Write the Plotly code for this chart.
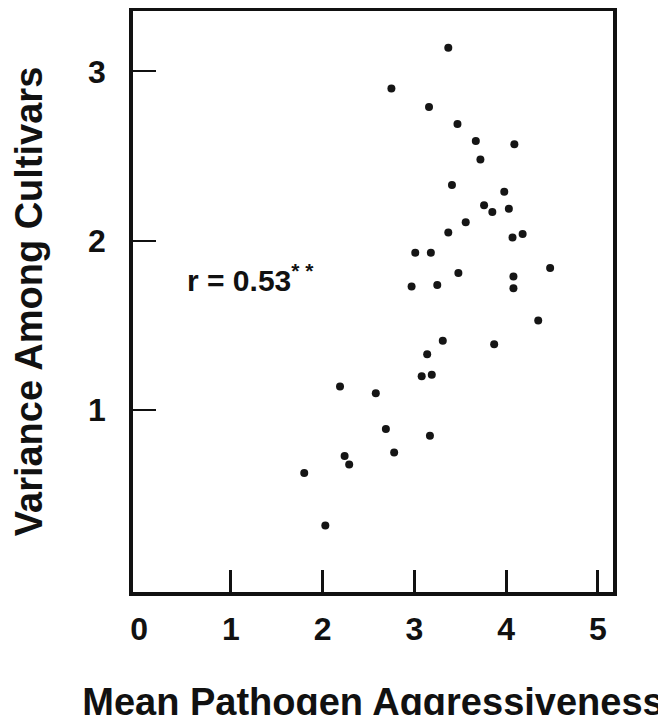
import plotly.graph_objects as go

# Mean pathogen aggressiveness (x) and variance among cultivars (y)
aggressiveness = [3.37, 2.75, 3.16, 3.47, 3.67, 4.09, 3.72, 3.41, 3.98, 3.76,
                  4.03, 3.85, 3.56, 3.37, 3.01, 3.18, 4.07, 4.18, 4.48, 3.48,
                  2.97, 3.25, 4.08, 4.08, 4.35, 3.31, 3.87, 3.14, 3.08, 3.19,
                  2.19, 2.58, 2.69, 3.17, 2.78, 2.24, 2.29, 1.80, 2.03]
variance = [3.14, 2.90, 2.79, 2.69, 2.59, 2.57, 2.48, 2.33, 2.29, 2.21,
            2.19, 2.17, 2.11, 2.05, 1.93, 1.93, 2.02, 2.04, 1.84, 1.81,
            1.73, 1.74, 1.79, 1.72, 1.53, 1.41, 1.39, 1.33, 1.20, 1.21,
            1.14, 1.10, 0.89, 0.85, 0.75, 0.73, 0.68, 0.63, 0.32]

x_labels = [0, 1, 2, 3, 4, 5]
x_ticks = [1, 2, 3, 4, 5]
y_ticks = [1, 2, 3]
r_text = "r = 0.53<sup>*&nbsp;*</sup>"

FONT = "Liberation Sans"

fig = go.Figure()
fig.add_trace(go.Scatter(
    x=aggressiveness, y=variance, mode="markers",
    marker=dict(size=8, color="#151515"),
    showlegend=False, hoverinfo="x+y",
))

axis_common = dict(
    showline=True, linewidth=3.5, linecolor="#111", mirror=True,
    showgrid=False, zeroline=False, automargin=False,
    ticks="outside", tickcolor="rgba(0,0,0,0)",
    tickfont=dict(family=FONT, size=32, color="#111", weight="bold"),
)

fig.update_xaxes(
    range=[-0.066, 5.165],
    tickvals=x_labels, ticktext=[str(v) for v in x_labels],
    ticklen=6,
    minor=dict(tickvals=x_ticks, ticks="inside", ticklen=22, tickwidth=2.5, tickcolor="#111"),
    title=dict(text="Mean Pathogen Aggressiveness", standoff=44,
               font=dict(family=FONT, size=38, color="#111", weight="bold")),
    **axis_common,
)
fig.update_yaxes(
    range=[-0.073, 3.357],
    tickvals=y_ticks, ticktext=[str(v) for v in y_ticks],
    ticklen=17,
    minor=dict(tickvals=y_ticks, ticks="inside", ticklen=23, tickwidth=2, tickcolor="#111"),
    title=dict(text="Variance Among Cultivars", standoff=36,
               font=dict(family=FONT, size=38, color="#111", weight="bold")),
    **axis_common,
)

fig.add_annotation(
    x=0.5, y=1.78, xref="x", yref="y", text=r_text, showarrow=False,
    xanchor="left", yanchor="middle",
    font=dict(family=FONT, size=30, color="#111", weight="bold"),
)

# the page body adds an 8px offset, so margins are shifted to compensate
fig.update_layout(
    width=666, height=715,
    margin=dict(l=125, r=61, t=3, b=131),
    paper_bgcolor="white", plot_bgcolor="white",
)

fig.write_html("out.html")
